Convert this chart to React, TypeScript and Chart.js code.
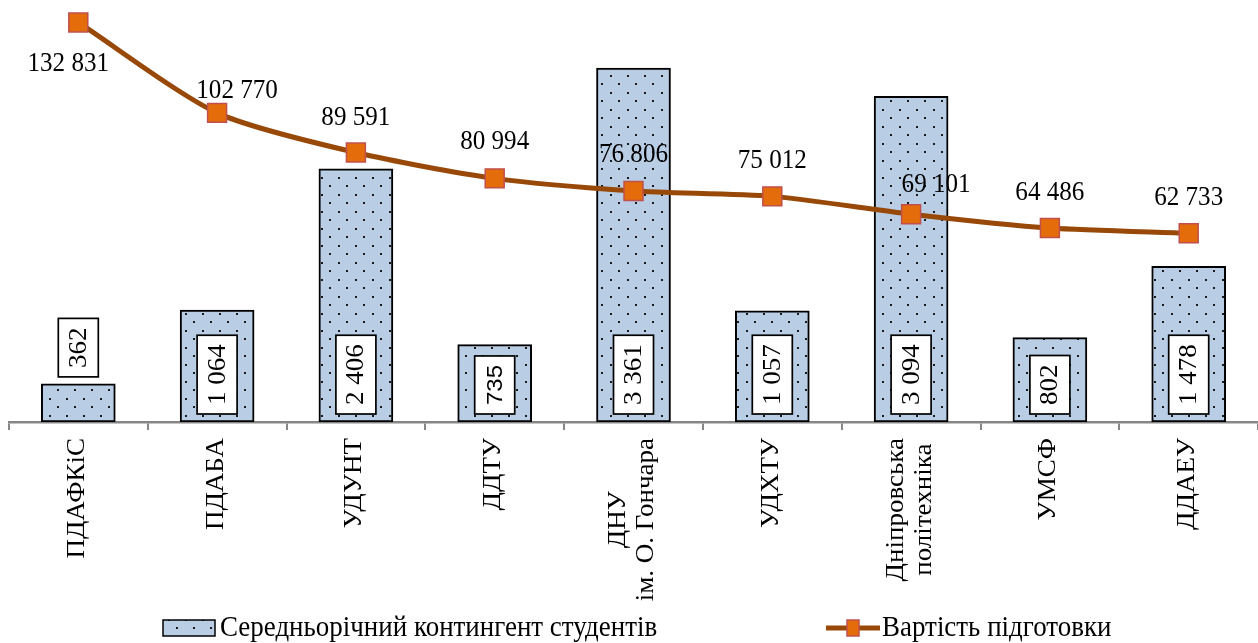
import React, { useEffect, useRef } from 'react';
import { Chart, registerables } from 'chart.js';

Chart.register(...registerables);

const categories: string[][] = [
  ['ПДАФКіС'],
  ['ПДАБА'],
  ['УДУНТ'],
  ['ДДТУ'],
  ['ДНУ', 'ім. О. Гончара'],
  ['УДХТУ'],
  ['Дніпровська', 'політехніка'],
  ['УМСФ'],
  ['ДДАЕУ'],
];
const students = [362, 1064, 2406, 735, 3361, 1057, 3094, 802, 1478];
const cost = [132831, 102770, 89591, 80994, 76806, 75012, 69101, 64486, 62733];
const seriesNames = ['Середньорічний контингент студентів', 'Вартість підготовки'];

// label offsets for the cost labels (styling, not data)
const costLabelOffsets: [number, number][] = [
  [-10, 41], [20, -22], [0, -35], [0, -36], [0, -36], [0, -35], [25, -29], [0, -35], [0, -35],
];

const BAR_FILL = '#b9cde5';
const LINE_COLOR = '#984807';
const MARKER_FILL = '#e46c0a';
const MARKER_BORDER = '#c0504d';
const AXIS_COLOR = '#878787';
const SX = 0.93;
const FONT_SIZE = 27;
const LEGEND_FONT_SIZE = 29;
// canvas offset relative to the page (compensates Chart.js point overflow padding)
const OX = -6;
const OY = -14;
const CW = 1279;
const CH = 657;

const serif = (s: number) => `${s}px "Liberation Serif", "Times New Roman", serif`;
const sans = (s: number) => `${s}px "Liberation Sans", Arial, sans-serif`;

const fmt = (v: number) => String(v).replace(/\B(?=(\d{3})+(?!\d))/g, ' ');

function makePattern(ctx: CanvasRenderingContext2D) {
  const c = document.createElement('canvas');
  c.width = 17;
  c.height = 17;
  const g = c.getContext('2d')!;
  g.fillStyle = BAR_FILL;
  g.fillRect(0, 0, 17, 17);
  g.fillStyle = '#1a1a1a';
  g.fillRect(4, 4, 2, 2);
  g.fillRect(12, 12, 2, 2);
  return ctx.createPattern(c, 'repeat')!;
}

function drawText(
  ctx: CanvasRenderingContext2D,
  str: string,
  x: number,
  y: number,
  rot: number,
  font: string,
  align: CanvasTextAlign = 'center'
) {
  ctx.save();
  ctx.translate(x, y);
  ctx.scale(SX, 1);
  ctx.rotate(rot);
  ctx.font = font;
  ctx.textAlign = align;
  ctx.textBaseline = 'middle';
  ctx.fillStyle = '#000';
  ctx.fillText(str, 0, 0);
  ctx.restore();
}

export default function App() {
  const ref = useRef<HTMLCanvasElement>(null);

  useEffect(() => {
    const canvas = ref.current!;
    const ctx0 = canvas.getContext('2d')!;
    const pattern = makePattern(ctx0);
    const px = (x: number) => x - OX;
    const py = (y: number) => y - OY;

    const overlay = {
      id: 'overlay',
      afterDraw(chart: any) {
        const ctx: CanvasRenderingContext2D = chart.ctx;
        const area = chart.chartArea;
        const barMeta = chart.getDatasetMeta(0);
        const lineMeta = chart.getDatasetMeta(1);

        // bar value labels in boxes
        barMeta.data.forEach((bar: any, i: number) => {
          const label = fmt(students[i]);
          const font = students[i] === 735 ? sans(FONT_SIZE - 3) : serif(FONT_SIZE);
          ctx.font = font;
          const w = ctx.measureText(label).width;
          const boxH = w + 18;
          const boxW = 40;
          let bottom = area.bottom - 8;
          if (bar.y > bottom - boxH - 6) bottom = bar.y - 7;
          const cx = bar.x;
          ctx.save();
          ctx.fillStyle = '#fff';
          ctx.fillRect(cx - boxW / 2, bottom - boxH, boxW, boxH);
          ctx.strokeStyle = '#000';
          ctx.lineWidth = 1.7;
          ctx.strokeRect(cx - boxW / 2, bottom - boxH, boxW, boxH);
          ctx.restore();
          drawText(ctx, label, cx + 1, bottom - boxH / 2, -Math.PI / 2, font);
        });

        // cost labels
        lineMeta.data.forEach((pt: any, i: number) => {
          const [dx, dy] = costLabelOffsets[i];
          drawText(ctx, fmt(cost[i]), pt.x + dx, pt.y + dy, 0, serif(FONT_SIZE));
        });

        // category labels (rotated)
        const xs = chart.scales.x;
        categories.forEach((lines, i) => {
          const x = xs.getPixelForValue(i);
          ctx.font = serif(FONT_SIZE);
          const maxW = Math.max(...lines.map((l) => ctx.measureText(l).width));
          const cy = area.bottom + 16 + maxW / 2;
          lines.forEach((l, j) => {
            const lx = x + (j - (lines.length - 1) / 2) * 28 - 1;
            drawText(ctx, l, lx, cy, -Math.PI / 2, serif(FONT_SIZE));
          });
        });

        // legend
        const ly = py(628);
        ctx.save();
        ctx.fillStyle = pattern;
        ctx.fillRect(px(163), py(620), 52, 16);
        ctx.strokeStyle = '#000';
        ctx.lineWidth = 1.5;
        ctx.strokeRect(px(163), py(620), 52, 16);
        ctx.restore();
        drawText(ctx, seriesNames[0], px(220), ly, 0, serif(LEGEND_FONT_SIZE), 'left');

        ctx.save();
        ctx.strokeStyle = LINE_COLOR;
        ctx.lineWidth = 5;
        ctx.beginPath();
        ctx.moveTo(px(826), ly);
        ctx.lineTo(px(880), ly);
        ctx.stroke();
        ctx.fillStyle = MARKER_FILL;
        ctx.fillRect(px(847), py(620), 12, 16);
        ctx.strokeStyle = MARKER_BORDER;
        ctx.lineWidth = 1.5;
        ctx.strokeRect(px(847), py(620), 12, 16);
        ctx.restore();
        drawText(ctx, seriesNames[1], px(882), ly, 0, serif(LEGEND_FONT_SIZE), 'left');
      },
    };

    const chart = new Chart(canvas, {
      type: 'bar',
      data: {
        labels: categories.map((c) => c.join(' ')),
        datasets: [
          {
            type: 'bar',
            label: seriesNames[0],
            data: students,
            backgroundColor: pattern as any,
            borderColor: '#000',
            borderWidth: 2,
            borderSkipped: false,
            barThickness: 74,
            yAxisID: 'y',
            order: 2,
          },
          {
            type: 'line',
            label: seriesNames[1],
            data: cost,
            borderColor: LINE_COLOR,
            borderWidth: 5,
            pointStyle: 'rect',
            pointRadius: 13.4,
            pointHoverRadius: 13.4,
            pointBackgroundColor: MARKER_FILL,
            pointBorderColor: MARKER_BORDER,
            pointBorderWidth: 1.5,
            tension: 0.25,
            yAxisID: 'y2',
            order: 1,
          } as any,
        ],
      },
      options: {
        animation: false,
        responsive: true,
        maintainAspectRatio: false,
        layout: { padding: { left: 0, right: 0, top: 0, bottom: 213 } },
        plugins: {
          legend: { display: false },
          tooltip: { enabled: false },
        },
        scales: {
          x: {
            offset: true,
            grid: {
              offset: true,
              drawOnChartArea: false,
              drawTicks: true,
              tickLength: 8,
              color: AXIS_COLOR,
              lineWidth: 2,
            },
            border: { display: true, color: AXIS_COLOR, width: 2.5 },
            ticks: { display: false },
          },
          y: { display: false, min: 0, max: 4000 },
          y2: { display: false, min: 0, max: 140000, position: 'right' },
        },
      },
      plugins: [overlay],
    });

    return () => chart.destroy();
  }, []);

  return (
    <div style={{ position: 'absolute', left: 0, top: 0, width: 1258, height: 643, overflow: 'hidden' }}>
      <div style={{ position: 'absolute', left: OX, top: OY, width: CW, height: CH }}>
        <canvas ref={ref} />
      </div>
    </div>
  );
}
